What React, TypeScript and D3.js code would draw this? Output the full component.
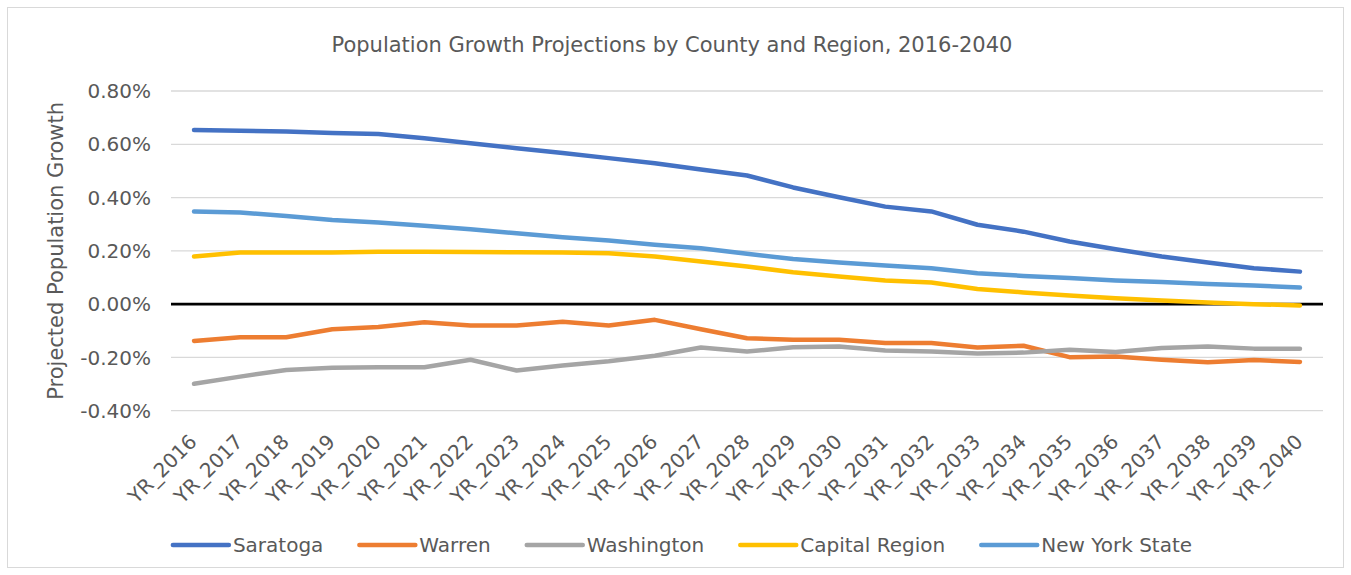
import React, { useEffect, useRef } from "react";
import * as d3 from "d3";

const years: string[] = [
  "YR_2016","YR_2017","YR_2018","YR_2019","YR_2020","YR_2021","YR_2022","YR_2023","YR_2024",
  "YR_2025","YR_2026","YR_2027","YR_2028","YR_2029","YR_2030","YR_2031","YR_2032","YR_2033",
  "YR_2034","YR_2035","YR_2036","YR_2037","YR_2038","YR_2039","YR_2040",
];

const saratoga: number[] = [0.654,0.651,0.648,0.642,0.639,0.623,0.604,0.585,0.567,0.548,0.529,0.505,0.483,0.438,0.401,0.366,0.348,0.298,0.272,0.235,0.206,0.179,0.156,0.135,0.122];
const warren: number[] = [-0.138,-0.124,-0.124,-0.094,-0.086,-0.068,-0.080,-0.080,-0.066,-0.080,-0.059,-0.094,-0.128,-0.134,-0.134,-0.146,-0.146,-0.163,-0.156,-0.199,-0.197,-0.209,-0.218,-0.210,-0.217];
const washington: number[] = [-0.299,-0.272,-0.247,-0.239,-0.237,-0.237,-0.209,-0.249,-0.230,-0.214,-0.194,-0.163,-0.178,-0.162,-0.159,-0.174,-0.178,-0.185,-0.182,-0.171,-0.180,-0.165,-0.159,-0.167,-0.167];
const capitalRegion: number[] = [0.179,0.194,0.194,0.194,0.197,0.197,0.196,0.195,0.194,0.191,0.179,0.160,0.141,0.120,0.104,0.089,0.081,0.057,0.044,0.032,0.022,0.014,0.006,0.000,-0.005];
const newYorkState: number[] = [0.348,0.344,0.331,0.316,0.306,0.294,0.281,0.266,0.251,0.239,0.223,0.210,0.189,0.169,0.156,0.145,0.135,0.116,0.106,0.098,0.089,0.083,0.076,0.070,0.062];

const seriesNames: string[] = ["Saratoga", "Warren", "Washington", "Capital Region", "New York State"];
const seriesColors: string[] = ["#4472C4", "#ED7D31", "#A5A5A5", "#FFC000", "#5B9BD5"];
const seriesValues: number[][] = [saratoga, warren, washington, capitalRegion, newYorkState];

const yTicks: number[] = [-0.4, -0.2, 0, 0.2, 0.4, 0.6, 0.8];

const title = "Population Growth Projections by County and Region, 2016-2040";
const yTitle = "Projected Population Growth";

const W = 1351;
const H = 575;
const FONT = "'DejaVu Sans', sans-serif";
const TEXT = "#595959";

export default function App() {
  const ref = useRef<SVGSVGElement | null>(null);

  useEffect(() => {
    const svg = d3.select(ref.current);
    svg.selectAll("*").remove();

    const x = d3.scalePoint<string>().domain(years).range([171, 1323]).padding(0.5);
    const y = d3.scaleLinear().domain([-0.4, 0.8]).range([410.7, 91]);

    svg.append("rect").attr("x", 0).attr("y", 0).attr("width", W).attr("height", H).attr("fill", "#fff");
    svg.append("rect").attr("x", 7.5).attr("y", 7.5).attr("width", 1336).attr("height", 560)
      .attr("fill", "none").attr("stroke", "#D9D9D9").attr("stroke-width", 1);

    svg.append("text").attr("x", 672).attr("y", 52).attr("text-anchor", "middle")
      .attr("font-family", FONT).attr("font-size", 21).attr("fill", TEXT).text(title);

    // grid
    const grid = svg.append("g");
    yTicks.filter((t) => t !== 0).forEach((t) => {
      grid.append("line").attr("x1", 171).attr("x2", 1323).attr("y1", y(t)).attr("y2", y(t))
        .attr("stroke", "#D9D9D9").attr("stroke-width", 1.3);
    });

    // y tick labels (hyphen minus, as in the reference)
    const fmt = d3.format(".2f");
    yTicks.forEach((t) => {
      const label = (t < 0 ? "-" : "") + fmt(Math.abs(t)) + "%";
      svg.append("text").attr("x", 151).attr("y", y(t)).attr("dy", "0.36em").attr("text-anchor", "end")
        .attr("font-family", FONT).attr("font-size", 20).attr("fill", TEXT).text(label);
    });

    // zero line
    svg.append("line").attr("x1", 171).attr("x2", 1323).attr("y1", y(0)).attr("y2", y(0))
      .attr("stroke", "#000").attr("stroke-width", 2.8);

    // y title
    svg.append("text").attr("transform", `translate(63,${(91 + 410.7) / 2}) rotate(-90)`)
      .attr("text-anchor", "middle").attr("font-family", FONT).attr("font-size", 21).attr("fill", TEXT).text(yTitle);

    // x labels
    years.forEach((yr) => {
      svg.append("text").attr("transform", `translate(${(x(yr) as number) + 4},443) rotate(-45)`)
        .attr("text-anchor", "end").attr("font-family", FONT).attr("font-size", 20).attr("fill", TEXT).text(yr);
    });

    // lines
    const line = d3.line<number>().x((_, i) => x(years[i]) as number).y((d) => y(d));
    seriesValues.forEach((vals, k) => {
      svg.append("path").attr("d", line(vals) as string).attr("fill", "none")
        .attr("stroke", seriesColors[k]).attr("stroke-width", 4.5)
        .attr("stroke-linecap", "round").attr("stroke-linejoin", "round");
    });

    // legend
    const lg = svg.append("g");
    const items = seriesNames.map((name, k) => {
      const g = lg.append("g");
      g.append("line").attr("x1", 0).attr("x2", 56).attr("y1", 0).attr("y2", 0)
        .attr("stroke", seriesColors[k]).attr("stroke-width", 4.5).attr("stroke-linecap", "round");
      const t = g.append("text").attr("x", 60).attr("y", 0).attr("dy", "0.36em")
        .attr("font-family", FONT).attr("font-size", 20).attr("fill", TEXT).text(name);
      const w = (t.node() as SVGTextElement).getComputedTextLength();
      return { g, w: 60 + w };
    });
    const gap = 36;
    const total = items.reduce((s, it) => s + it.w, 0) + gap * (items.length - 1);
    let cx = 682.5 - total / 2;
    items.forEach((it) => {
      it.g.attr("transform", `translate(${cx},545)`);
      cx += it.w + gap;
    });
  }, []);

  return (
    <svg ref={ref} width={W} height={H} style={{ position: "absolute", left: 0, top: 0, display: "block" }} />
  );
}
